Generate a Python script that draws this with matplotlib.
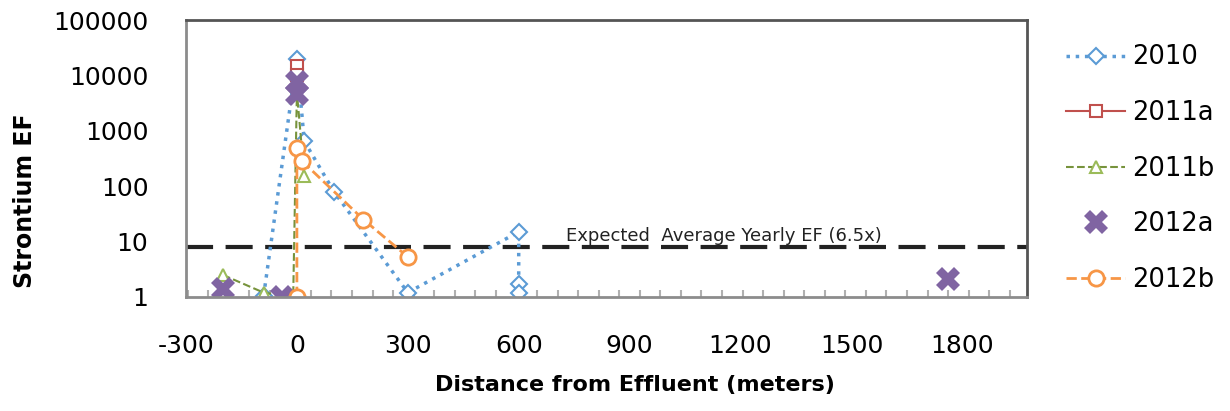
import matplotlib.pyplot as plt
from matplotlib.ticker import FixedLocator, FuncFormatter, MultipleLocator

plt.rcParams['font.family'] = ['DejaVu Sans']
plt.rcParams['axes.unicode_minus'] = False

# values
x2010 = [-90, 0, 20, 100, 300, 600, 600, 600]
y2010 = [1.05, 20000, 650, 80, 1.2, 15, 1.7, 1.2]
x2011a = [0, 0]
y2011a = [15000, 10000]
x2011b = [-200, -90, -10, 0, 20]
y2011b = [2.5, 1.2, 1.0, 5000, 150]
x2012a = [-200, -40, 0, 0, 1760]
y2012a = [1.4, 1.0, 7500, 4700, 2.1]
x2012b = [0, 0, 15, 180, 300]
y2012b = [1.0, 480, 280, 25, 5.3]
expected_ef = 8
expected_label = 'Expected  Average Yearly EF (6.5x)'
yticks = [1, 10, 100, 1000, 10000, 100000]
xticks = [-300, 0, 300, 600, 900, 1200, 1500, 1800]

fig = plt.figure(figsize=(12.3, 4.11), dpi=100)
ax = fig.add_axes([0.1512, 0.2774, 0.6838, 0.6739])

ax.plot(x2010, y2010, color='#5B9BD5', linestyle=':', linewidth=2.5,
        marker='D', markersize=8.5, markerfacecolor='white', markeredgewidth=1.5, label='2010')
ax.plot(x2011a, y2011a, color='#C0504D', linestyle='-', linewidth=1.5,
        marker='s', markersize=9, markerfacecolor='white', markeredgewidth=1.5, label='2011a')
ax.plot(x2011b, y2011b, color='#77933C', linestyle='--', linewidth=1.5,
        marker='^', markersize=9, markerfacecolor='white', markeredgecolor='#9BBB59',
        markeredgewidth=1.5, label='2011b')
ax.plot(x2012a, y2012a, color='#8064A2', linestyle='none',
        marker='X', markersize=17, markeredgewidth=0, label='2012a')
ax.plot(x2012b, y2012b, color='#F79646', linestyle='--', linewidth=2,
        marker='o', markersize=11, markerfacecolor='white', markeredgewidth=2, label='2012b')

ax.axhline(expected_ef, color='#222222', linewidth=3, dashes=(6.5, 3), zorder=1)
ax.text(1155, expected_ef * 1.1, expected_label, ha='center', va='bottom',
        fontsize=13, color='#222222')

ax.set_yscale('log')
ax.set_ylim(1, 100000)
ax.set_xlim(-300, 1975)
ax.yaxis.set_major_locator(FixedLocator(yticks))
ax.yaxis.set_major_formatter(FuncFormatter(lambda v, p: '%d' % v))
ax.yaxis.set_minor_formatter(FuncFormatter(lambda v, p: ''))
ax.xaxis.set_major_locator(FixedLocator(xticks))
ax.xaxis.set_minor_locator(MultipleLocator(55.6, offset=38))

ax.tick_params(axis='both', which='both', direction='in', color='#b0b0b0', width=1.5)
ax.tick_params(axis='both', which='major', length=0, labelsize=18, pad=27)
ax.tick_params(axis='x', which='minor', length=5)
ax.tick_params(axis='y', which='minor', length=4)

for side in ['left', 'bottom']:
    ax.spines[side].set_color('#8c8c8c')
    ax.spines[side].set_linewidth(2)
for side in ['top', 'right']:
    ax.spines[side].set_color('#555555')
    ax.spines[side].set_linewidth(2)

ax.set_ylabel('Strontium EF', fontsize=17, fontweight='bold')
ax.yaxis.set_label_coords(-0.177, 0.347)
ax.set_xlabel('Distance from Effluent (meters)', fontsize=16, fontweight='bold')
ax.xaxis.set_label_coords(0.534, -0.28)

ax.legend(loc='upper left', bbox_to_anchor=(0.848, 0.948), bbox_transform=fig.transFigure,
          frameon=False, fontsize=18.5, labelspacing=1.15, handlelength=2.3,
          handletextpad=0.25)

fig.savefig('out.png', dpi=100)
